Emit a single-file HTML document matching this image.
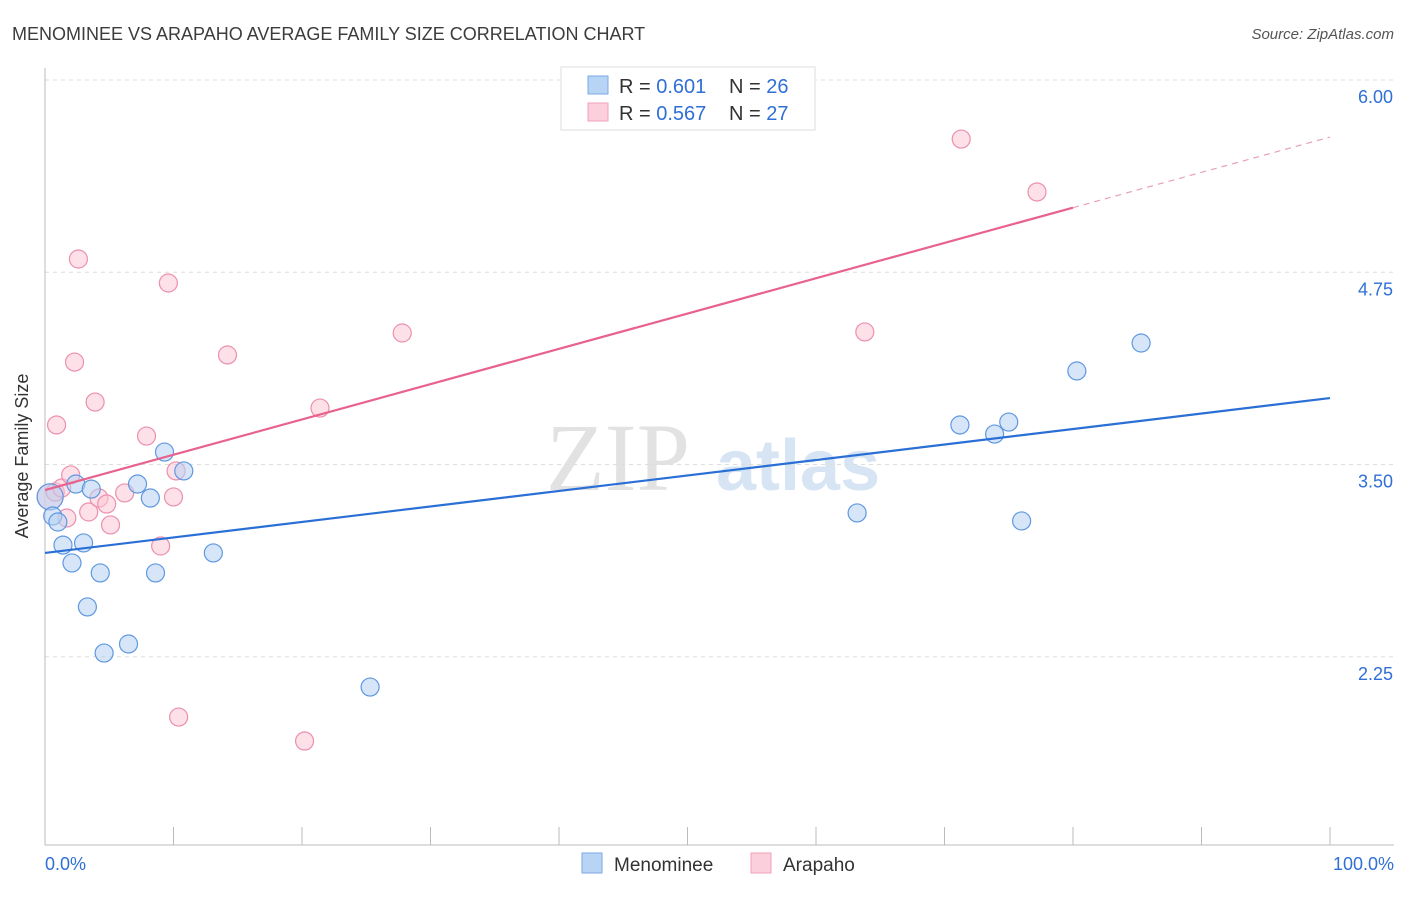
<!DOCTYPE html>
<html><head><meta charset="utf-8"><style>
body{margin:0;background:#fff;font-family:"Liberation Sans",sans-serif}
</style></head><body>
<svg width="1406" height="892" font-family="Liberation Sans, sans-serif">
<text x="12" y="40" font-size="18" fill="#3c3c3c">MENOMINEE VS ARAPAHO AVERAGE FAMILY SIZE CORRELATION CHART</text>
<text x="1394" y="39" font-size="15" fill="#555" text-anchor="end" font-style="italic">Source: ZipAtlas.com</text>
<text x="690" y="490" font-size="96" fill="#e2e2e2" text-anchor="end" font-family="Liberation Serif, serif">ZIP</text>
<text x="716" y="490" font-size="72" fill="#d6e4f4" font-weight="bold">atlas</text>
<g id="grid"></g><g id="axes"></g><g id="marks"></g>
<g>
<rect x="561" y="67" width="254" height="63" fill="#fff" stroke="#ddd"/>
<rect x="588" y="76" width="20" height="18" fill="#b8d4f5" stroke="#7aa9e6"/>
<rect x="588" y="103" width="20" height="18" fill="#fbd0dc" stroke="#f0a0b8"/>
<text x="619" y="93" font-size="20" fill="#333">R = <tspan fill="#2f6fd6">0.601</tspan></text>
<text x="729" y="93" font-size="20" fill="#333">N = <tspan fill="#2f6fd6">26</tspan></text>
<text x="619" y="120" font-size="20" fill="#333">R = <tspan fill="#2f6fd6">0.567</tspan></text>
<text x="729" y="120" font-size="20" fill="#333">N = <tspan fill="#2f6fd6">27</tspan></text>
</g>
<g>
<rect x="582" y="853" width="20" height="20" fill="#b8d4f5" stroke="#7aa9e6"/>
<text x="614" y="871" font-size="19" fill="#333">Menominee</text>
<rect x="751" y="853" width="20" height="20" fill="#fbd0dc" stroke="#f0a0b8"/>
<text x="783" y="871" font-size="19" fill="#333">Arapaho</text>
</g>
<text x="28" y="456" font-size="18" fill="#333" text-anchor="middle" transform="rotate(-90 28 456)">Average Family Size</text>
<text x="45" y="870" font-size="18" fill="#2f6fd6">0.0%</text>
<text x="1394" y="870" font-size="18" fill="#2f6fd6" text-anchor="end">100.0%</text>
</svg>
<script>
const yTicks=[6.00,4.75,3.50,2.25];
const blueX=[0.4,0.6,1.0,1.4,2.1,2.4,3.0,3.3,3.6,4.3,4.6,6.5,7.2,8.2,8.6,9.3,10.8,13.1,25.3,63.2,71.2,73.9,75.0,76.0,80.3,85.3];
const blueY=[3.29,3.165,3.126,2.976,2.86,3.373,2.99,2.574,3.34,2.795,2.274,2.333,3.373,3.282,2.795,3.581,3.458,2.925,2.053,3.185,3.757,3.698,3.776,3.133,4.108,4.29];
const pinkX=[0.4,0.8,0.9,1.3,1.7,2.0,2.3,2.6,3.4,3.9,4.2,4.8,5.1,6.2,7.9,9.0,9.6,10.0,10.2,10.4,14.2,20.2,21.4,27.8,63.8,71.3,77.2];
const pinkY=[3.29,3.321,3.757,3.347,3.152,3.432,4.166,4.836,3.191,3.906,3.282,3.243,3.107,3.315,3.685,2.97,4.68,3.289,3.458,1.858,4.212,1.702,3.867,4.355,4.362,5.616,5.272];
const blueTrend=[2.925,3.932];
const pinkTrend=[3.334,5.629];
const NS='http://www.w3.org/2000/svg';
const sx=p=>45+p*12.85, sy=v=>80+(6-v)*153.8;
function mk(t,a,parent){const e=document.createElementNS(NS,t);for(const k in a)e.setAttribute(k,a[k]);document.getElementById(parent).appendChild(e);return e;}
yTicks.forEach(v=>{
 const l=mk('line',{x1:45,x2:1394,y1:sy(v),y2:sy(v),stroke:'#ddd','stroke-dasharray':'4 4'},'grid');
 
 
 const t=mk('text',{x:1393,y:sy(v)+23,'font-size':18,fill:'#2f6fd6','text-anchor':'end'},'grid');t.textContent=v.toFixed(2);
 
 
});
mk('line',{x1:45,x2:45,y1:68,y2:845,stroke:'#bbb'},'axes');
mk('line',{x1:45,x2:1394,y1:845,y2:845,stroke:'#bbb'},'axes');
for(let i=0;i<=10;i++){const t=mk('line',{x1:sx(i*10),x2:sx(i*10),y1:827,y2:845,stroke:'#bbb'},'axes');
 
 }
function dots(xs,ys,fill,stroke,name){xs.forEach((x,i)=>{const c=mk('circle',{cx:sx(x),cy:sy(ys[i]),r:i==0?13:9,fill:fill,'fill-opacity':0.55,stroke:stroke,'stroke-width':1.2},'marks');
 
 });}
dots(pinkX,pinkY,'#fbc6d6','#eb90ad','arapaho-point');
dots(blueX,blueY,'#b5d1f3','#5f98e0','menominee-point');
let l=mk('line',{x1:sx(0),y1:sy(blueTrend[0]),x2:sx(100),y2:sy(blueTrend[1]),stroke:'#2a6fd6','stroke-width':2.2},'marks');


const pAt=p=>pinkTrend[0]+(pinkTrend[1]-pinkTrend[0])*p/100;
l=mk('line',{x1:sx(0),y1:sy(pAt(0)),x2:sx(80),y2:sy(pAt(80)),stroke:'#e8628d','stroke-width':2.2},'marks');


l=mk('line',{x1:sx(80),y1:sy(pAt(80)),x2:sx(100),y2:sy(pAt(100)),stroke:'#e8a0b8','stroke-width':1.2,'stroke-dasharray':'6 5'},'marks');


</script>
</body></html>
